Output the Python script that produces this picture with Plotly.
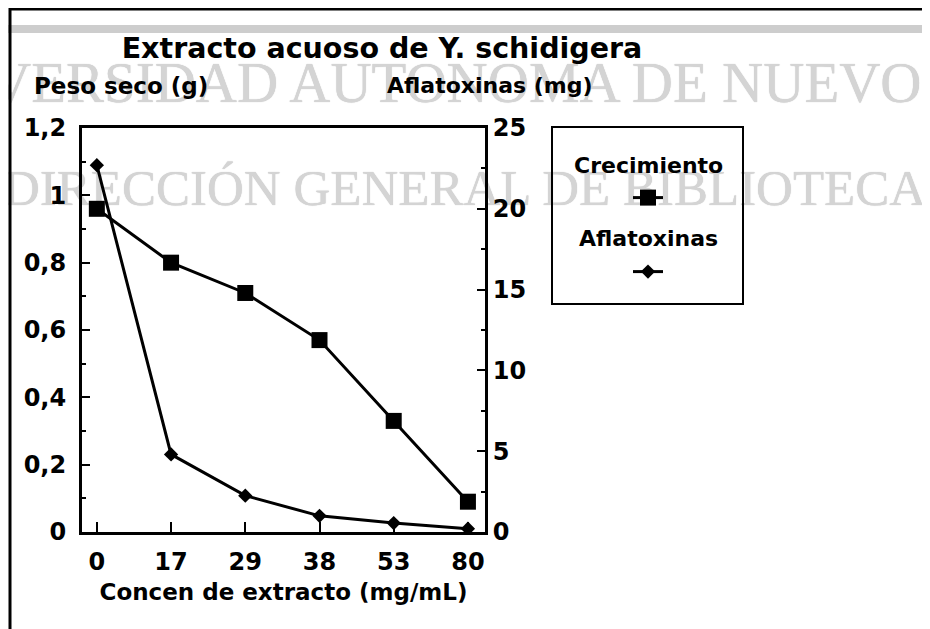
import plotly.graph_objects as go

CONCEN = ['0', '17', '29', '38', '53', '80']
CRECIMIENTO = [0.96, 0.80, 0.71, 0.57, 0.33, 0.09]   # peso seco (g)
AFLATOXINAS = [22.7, 4.8, 2.25, 1.0, 0.55, 0.2]      # mg

TITULO = 'Extracto acuoso de Y. schidigera'
MARCA_1 = 'VERSIDAD AUTONOMA DE NUEVO'
MARCA_2 = 'DIRECCIÓN GENERAL DE BIBLIOTECAS'

W, H = 930, 629
OFF = 8                          # margen del body de la pagina
L, R, T, B = 82, 485, 128, 532   # area del grafico (pixeles de la pagina)
FONT = 'DejaVu Sans'


def px(x):
    return (x - L) / (R - L)


def py(y):
    return (B - y) / (B - T)


fig = go.Figure()

fig.add_trace(go.Scatter(
    x=CONCEN, y=CRECIMIENTO, name=' ', mode='lines+markers', showlegend=True,
    line=dict(color='black', width=3),
    marker=dict(symbol='square', size=16, color='black'),
    legend='legend'))

fig.add_trace(go.Scatter(
    x=CONCEN, y=AFLATOXINAS, name=' ', mode='lines+markers', yaxis='y2', showlegend=True,
    line=dict(color='black', width=3),
    marker=dict(symbol='diamond', size=11, color='black'),
    legend='legend2'))

eje = dict(showline=True, linecolor='black', linewidth=3, ticks='inside',
           tickcolor='black', tickwidth=2, showgrid=False, zeroline=False,
           tickfont=dict(family=FONT, size=24, color='black', weight='bold'))

fig.update_layout(
    width=W, height=H,
    margin=dict(l=L - OFF, r=W - R + OFF, t=T - OFF, b=H - B + OFF),
    paper_bgcolor='white', plot_bgcolor='rgba(0,0,0,0)',
    showlegend=True,
    separators=', ',
    font=dict(family=FONT, color='black', weight='bold'),
    xaxis=dict(eje, type='category', categoryorder='array', categoryarray=CONCEN,
               range=[-0.2, 5.23], ticklen=10, mirror=True, ticklabelstandoff=6,
               title=dict(text='Concen de extracto (mg/mL)', standoff=10,
                          font=dict(family=FONT, size=23, weight='bold'))),
    yaxis=dict(eje, range=[0, 1.2], dtick=0.2, ticklen=8, ticklabelstandoff=8,
               minor=dict(dtick=0.1, ticklen=4, ticks='inside', tickcolor='black', tickwidth=2)),
    yaxis2=dict(eje, range=[0, 25], dtick=5, ticklen=8, side='right',
                overlaying='y', ticklabelstandoff=0,
                minor=dict(dtick=2.5, ticklen=4, ticks='inside', tickcolor='black', tickwidth=2)),
    title=dict(text=TITULO, x=(382 - OFF) / W, y=1 - (48 - OFF) / H,
               xanchor='center', yanchor='middle',
               font=dict(family=FONT, size=28.5, color='black', weight='bold')),
    legend=dict(x=px(628), y=py(198), xanchor='left', yanchor='middle',
                bgcolor='rgba(0,0,0,0)', font=dict(size=14)),
    legend2=dict(x=px(628), y=py(272), xanchor='left', yanchor='middle',
                 bgcolor='rgba(0,0,0,0)', font=dict(size=14)),
)

# marco del escaneo y caja de la leyenda
fig.add_shape(type='line', xref='paper', yref='paper', x0=px(0), x1=px(W + OFF), y0=py(29), y1=py(29),
              line=dict(color='#cdcdcd', width=8), layer='below')
fig.add_shape(type='line', xref='paper', yref='paper', x0=px(10), x1=px(W + OFF), y0=py(9), y1=py(9),
              line=dict(color='black', width=3))
fig.add_shape(type='line', xref='paper', yref='paper', x0=px(10), x1=px(10), y0=py(8), y1=py(H + OFF),
              line=dict(color='black', width=3))
fig.add_shape(type='rect', xref='paper', yref='paper', x0=px(552), x1=px(743), y0=py(127), y1=py(304),
              line=dict(color='black', width=2))

# marca de agua (detras de todo)
sombra = '0px 0px 1px #c2c2c2'
for texto, x, y, size in [(MARCA_1, -13, 76, 57), (MARCA_2, 0, 182, 51)]:
    fig.add_shape(type='rect', xref='paper', yref='paper', layer='below',
                  x0=px(x), x1=px(x + 900), y0=py(y - 30), y1=py(y + 30),
                  line=dict(width=0), fillcolor='rgba(0,0,0,0)',
                  label=dict(text=texto, textposition='middle left', padding=0,
                             font=dict(family='Liberation Serif', size=size, color='#d4d4d4',
                                       weight='normal', shadow=sombra)))

# encabezados de los ejes y textos de la leyenda
for texto, x, y, size in [('Peso seco (g)', 121, 86, 23), ('Aflatoxinas (mg)', 490, 86, 22),
                          ('Crecimiento', 648, 165, 22), ('Aflatoxinas', 648, 238, 22)]:
    fig.add_annotation(text=texto, xref='paper', yref='paper', x=px(x), y=py(y),
                       xanchor='center', yanchor='middle', showarrow=False,
                       font=dict(family=FONT, size=size, color='black', weight='bold'))

fig.write_html('out.html')
